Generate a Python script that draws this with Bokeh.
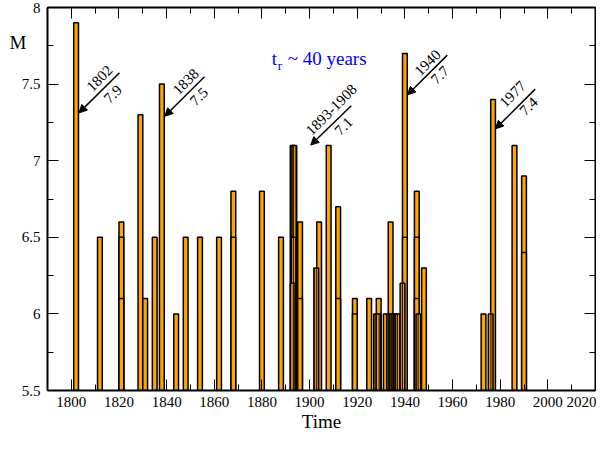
from bokeh.plotting import figure
from bokeh.models import (Range1d, LinearAxis, SingleIntervalTicker, FixedTicker, Label,
                          Arrow, NormalHead, CustomJSTickFormatter, ColumnDataSource,
                          CustomLabelingPolicy)
from bokeh.embed import file_html
from bokeh.resources import INLINE

# ---- data -------------------------------------------------------------
# isolated events (year, magnitude), drawn as plain orange bars
event_years = [1802, 1812, 1821, 1821, 1821, 1829, 1831, 1835, 1838, 1844,
               1848, 1854, 1862, 1868, 1868, 1880, 1888, 1896, 1896, 1904,
               1908, 1912, 1912, 1919, 1919, 1925, 1929, 1932, 1934, 1940,
               1940, 1945, 1945, 1945, 1948, 1973, 1977, 1986, 1990, 1990]
event_mags = [7.9, 6.5, 6.6, 6.5, 6.1, 7.3, 6.1, 6.5, 7.5, 6.0,
              6.5, 6.5, 6.5, 6.8, 6.5, 6.8, 6.5, 6.6, 6.1, 6.6,
              7.1, 6.7, 6.1, 6.1, 6.0, 6.1, 6.1, 6.0, 6.6, 7.7,
              6.5, 6.8, 6.5, 6.1, 6.3, 6.0, 7.4, 7.1, 6.9, 6.4]

# densely clustered events (closely overlapping bars)
cluster_years = [1892.9, 1893.6, 1893.3, 1892.9, 1902.8, 1927.9, 1928.9,
                 1933.4, 1934.3, 1935.2, 1936.1, 1937.0, 1939.0, 1945.7, 1976.0]
cluster_mags = [7.1, 7.1, 6.5, 6.2, 6.3, 6.0, 6.0,
                6.0, 6.0, 6.0, 6.0, 6.0, 6.2, 6.0, 6.0]

# highlighted events
highlight_year_text = ["1802", "1838", "1893-1908", "1940", "1977"]
highlight_mag_text = ["7.9", "7.5", "7.1", "7.7", "7.4"]

x_start, x_end = 1790, 2020
y_start, y_end = 5.5, 8.0

# ---- figure -----------------------------------------------------------
p = figure(width=596, height=434, x_range=Range1d(x_start, x_end),
           y_range=Range1d(y_start, y_end), output_backend="svg",
           toolbar_location=None, min_border_left=47, min_border_right=1,
           min_border_top=7, min_border_bottom=41)
p.grid.visible = False
p.outline_line_color = None
p.background_fill_color = "white"
p.border_fill_color = "white"

SERIF = "Liberation Serif"

no_labels = CustomLabelingPolicy(
    code="for (const i of [...indices.ones()]) { indices.unset(i); } return indices;")


def style_axis(ax, interval, show_labels):
    ax.ticker = SingleIntervalTicker(interval=interval, num_minor_ticks=2)
    ax.axis_line_color = "black"
    ax.axis_line_width = 2
    ax.major_tick_in = 11
    ax.major_tick_out = 0
    ax.minor_tick_in = 6
    ax.minor_tick_out = 0
    ax.major_tick_line_color = "black"
    ax.minor_tick_line_color = "black"
    ax.major_tick_line_width = 1
    ax.minor_tick_line_width = 1
    ax.major_label_text_font = SERIF
    ax.major_label_text_color = "black"
    if show_labels:
        ax.major_label_text_font_size = "15px"
        ax.major_label_standoff = 6
    else:
        ax.major_label_text_font_size = "0px"
        ax.major_label_standoff = 0
        ax.major_label_policy = no_labels


fmt = CustomJSTickFormatter(code="return String(Math.round(tick*100)/100);")

style_axis(p.below[0], 20, True)
style_axis(p.left[0], 0.5, True)
p.left[0].formatter = fmt
p.left[0].major_label_standoff = 7

top_axis = LinearAxis()
style_axis(top_axis, 20, False)
p.add_layout(top_axis, "above")
right_axis = LinearAxis()
style_axis(right_axis, 0.5, False)
p.add_layout(right_axis, "right")

# y title "M": horizontal, near the top of the left side (an outer label-only axis)
m_axis = LinearAxis(ticker=FixedTicker(ticks=[7.77], minor_ticks=[]),
                    formatter=CustomJSTickFormatter(code="return 'M';"))
m_axis.axis_line_color = None
m_axis.major_tick_line_color = None
m_axis.minor_tick_line_color = None
m_axis.major_tick_out = 0
m_axis.major_tick_in = 0
m_axis.major_label_standoff = -8
m_axis.major_label_text_font = SERIF
m_axis.major_label_text_font_size = "19px"
m_axis.major_label_text_color = "black"
p.add_layout(m_axis, "left")

xa = p.below[0]
xa.axis_label = "Time"
xa.axis_label_text_font = SERIF
xa.axis_label_text_font_size = "19px"
xa.axis_label_text_font_style = "normal"
xa.axis_label_text_color = "black"
xa.axis_label_standoff = 1

# ---- bars -------------------------------------------------------------
src_events = ColumnDataSource(dict(x=event_years, top=event_mags))
src_cluster = ColumnDataSource(dict(x=cluster_years, top=cluster_mags))

p.vbar(x="x", top="top", bottom=y_start, width=2, source=src_events,
       fill_color="#FFA500", line_color="black", line_width=1.5)
p.vbar(x="x", top="top", bottom=y_start, width=2, source=src_cluster,
       fill_color="#FFA500", line_color="black", line_width=1.5,
       hatch_pattern="|", hatch_color="black", hatch_scale=2.6, hatch_weight=1.5)

# ---- annotations ------------------------------------------------------
arrow_geom = [  # (x_start, y_start, x_end, y_end)
    (1820.2, 7.574, 1803.2, 7.312),
    (1855.9, 7.548, 1839.2, 7.290),
    (1917.5, 7.359, 1900.5, 7.102),
    (1957.8, 7.689, 1941.1, 7.430),
    (1994.7, 7.467, 1978.0, 7.208),
]
top_text_pos = [(1811.8, 7.538), (1848.0, 7.516), (1909.1, 7.333),
                (1949.5, 7.640), (1985.2, 7.435)]
bot_text_pos = [(1817.4, 7.435), (1853.5, 7.419), (1914.3, 7.225),
                (1954.7, 7.559), (1991.9, 7.355)]

for i in range(len(highlight_year_text)):
    xs, ys, xe, ye = arrow_geom[i]
    p.add_layout(Arrow(end=NormalHead(size=8, fill_color="black",
                                      line_color="black", line_width=1),
                       x_start=xs, y_start=ys, x_end=xe, y_end=ye,
                       line_color="black", line_width=1.5))
    for txt, (tx, ty) in ((highlight_year_text[i], top_text_pos[i]),
                          (highlight_mag_text[i], bot_text_pos[i])):
        p.add_layout(Label(x=tx, y=ty, text=txt, angle=45, angle_units="deg",
                           text_align="center", text_baseline="middle",
                           text_font=SERIF, text_font_size="15px",
                           text_color="black"))

# t_r ~ 40 years
p.add_layout(Label(x=1884.1, y=7.667, text="t", text_font=SERIF,
                   text_font_size="19px", text_color="#0000FF",
                   text_align="left", text_baseline="alphabetic"))
p.add_layout(Label(x=1886.6, y=7.624, text="r", text_font=SERIF,
                   text_font_size="13px", text_color="#0000FF",
                   text_align="left", text_baseline="alphabetic"))
p.add_layout(Label(x=1890.8, y=7.667, text="~ 40 years", text_font=SERIF,
                   text_font_size="19px", text_color="#0000FF",
                   text_align="left", text_baseline="alphabetic"))

open("out.html", "w").write(file_html(p, INLINE))
